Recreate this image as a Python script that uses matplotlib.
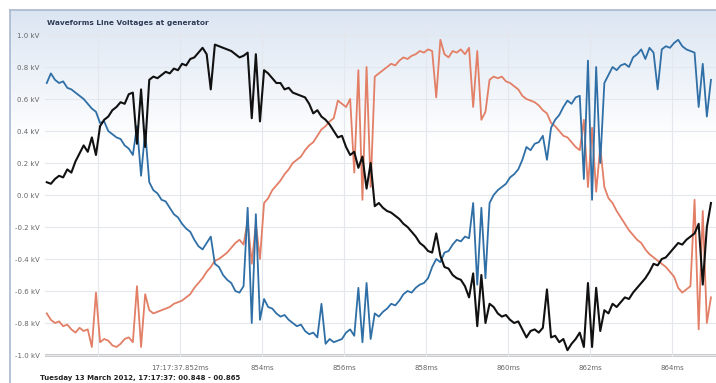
import numpy as np
import matplotlib
matplotlib.use("Agg")
import matplotlib.pyplot as plt

# ---------------- data ----------------
t_start = 848.75   # ms
t_step = 0.1       # ms sampling

black = [0.08, 0.07, 0.10, 0.12, 0.11, 0.16, 0.14, 0.21, 0.26, 0.31,
         0.27, 0.36, 0.25, 0.43, 0.47, 0.49, 0.53, 0.55, 0.58, 0.57,
         0.63, 0.64, 0.32, 0.66, 0.30, 0.72, 0.74, 0.73, 0.75, 0.77,
         0.76, 0.79, 0.78, 0.82, 0.81, 0.85, 0.86, 0.89, 0.92, 0.88,
         0.66, 0.94, 0.93, 0.92, 0.91, 0.90, 0.88, 0.86, 0.87, 0.89,
         0.48, 0.88, 0.46, 0.78, 0.76, 0.73, 0.70, 0.70, 0.66, 0.67,
         0.64, 0.63, 0.62, 0.61, 0.57, 0.51, 0.53, 0.49, 0.47, 0.44,
         0.40, 0.36, 0.37, 0.30, 0.25, 0.27, 0.17, 0.24, 0.04, 0.20,
         -0.07, -0.05, -0.08, -0.10, -0.11, -0.13, -0.15, -0.18, -0.20, -0.23,
         -0.26, -0.30, -0.32, -0.35, -0.36, -0.24, -0.38, -0.45, -0.46, -0.50,
         -0.52, -0.53, -0.57, -0.64, -0.49, -0.82, -0.50, -0.80, -0.68, -0.70,
         -0.74, -0.76, -0.75, -0.78, -0.80, -0.79, -0.84, -0.89, -0.85, -0.84,
         -0.86, -0.83, -0.59, -0.89, -0.88, -0.92, -0.90, -0.97, -0.93, -0.90,
         -0.86, -0.95, -0.55, -0.95, -0.58, -0.85, -0.72, -0.74, -0.68, -0.70,
         -0.67, -0.64, -0.65, -0.61, -0.58, -0.55, -0.52, -0.48, -0.43, -0.44,
         -0.40, -0.39, -0.36, -0.33, -0.30, -0.31, -0.28, -0.26, -0.24, -0.18,
         -0.56, -0.20, -0.05]

blue = [0.70, 0.76, 0.72, 0.70, 0.71, 0.67, 0.66, 0.64, 0.62, 0.60,
        0.57, 0.54, 0.52, 0.45, 0.46, 0.40, 0.38, 0.36, 0.35, 0.31,
        0.29, 0.25, 0.43, 0.12, 0.40, 0.08, 0.03, 0.01, -0.03, -0.04,
        -0.08, -0.12, -0.14, -0.18, -0.21, -0.23, -0.28, -0.32, -0.34, -0.30,
        -0.26, -0.43, -0.45, -0.50, -0.53, -0.55, -0.60, -0.61, -0.57, -0.08,
        -0.80, -0.12, -0.78, -0.65, -0.70, -0.71, -0.74, -0.76, -0.75, -0.78,
        -0.80, -0.82, -0.81, -0.85, -0.87, -0.86, -0.89, -0.68, -0.93, -0.90,
        -0.92, -0.91, -0.90, -0.86, -0.84, -0.88, -0.58, -0.92, -0.55, -0.90,
        -0.74, -0.76, -0.73, -0.71, -0.68, -0.69, -0.66, -0.62, -0.60, -0.61,
        -0.58, -0.56, -0.55, -0.52, -0.45, -0.40, -0.42, -0.36, -0.35, -0.31,
        -0.28, -0.29, -0.26, -0.27, -0.05, -0.56, -0.08, -0.52, -0.05, 0.00,
        0.03, 0.05, 0.07, 0.11, 0.13, 0.16, 0.22, 0.30, 0.28, 0.32,
        0.33, 0.37, 0.22, 0.42, 0.47, 0.50, 0.55, 0.59, 0.57, 0.61,
        0.62, 0.10, 0.84, -0.03, 0.80, 0.20, 0.70, 0.75, 0.80, 0.78,
        0.81, 0.82, 0.80, 0.86, 0.88, 0.91, 0.85, 0.92, 0.89, 0.66,
        0.91, 0.93, 0.92, 0.95, 0.97, 0.93, 0.91, 0.90, 0.89, 0.55,
        0.82, 0.49, 0.72]

orange = [-0.74, -0.78, -0.80, -0.79, -0.82, -0.81, -0.84, -0.86, -0.83, -0.85,
          -0.84, -0.95, -0.61, -0.92, -0.90, -0.91, -0.94, -0.95, -0.93, -0.90,
          -0.89, -0.92, -0.57, -0.95, -0.62, -0.72, -0.74, -0.73, -0.72, -0.71,
          -0.70, -0.68, -0.67, -0.66, -0.64, -0.62, -0.58, -0.55, -0.52, -0.48,
          -0.45, -0.41, -0.40, -0.38, -0.36, -0.33, -0.30, -0.28, -0.31, -0.16,
          -0.43, -0.18, -0.40, -0.05, -0.02, 0.03, 0.06, 0.09, 0.13, 0.16,
          0.20, 0.22, 0.24, 0.28, 0.31, 0.33, 0.37, 0.41, 0.43, 0.46,
          0.48, 0.59, 0.57, 0.55, 0.60, 0.14, 0.78, -0.03, 0.80, 0.05,
          0.74, 0.76, 0.78, 0.80, 0.82, 0.81, 0.84, 0.86, 0.85, 0.87,
          0.88, 0.90, 0.89, 0.91, 0.90, 0.61, 0.97, 0.88, 0.86, 0.90,
          0.89, 0.91, 0.88, 0.92, 0.55, 0.90, 0.47, 0.52, 0.72, 0.74,
          0.73, 0.74, 0.71, 0.70, 0.68, 0.66, 0.62, 0.60, 0.59, 0.58,
          0.56, 0.53, 0.51, 0.45, 0.43, 0.40, 0.37, 0.36, 0.33, 0.30,
          0.28, 0.47, 0.05, 0.42, 0.02, 0.30, 0.05, -0.02, -0.05, -0.10,
          -0.14, -0.18, -0.22, -0.25, -0.28, -0.30, -0.34, -0.37, -0.39, -0.41,
          -0.43, -0.45, -0.48, -0.51, -0.58, -0.61, -0.59, -0.57, -0.03, -0.84,
          -0.10, -0.80, -0.64]

x_ticks = [850, 852, 854, 856, 858, 860, 862, 864]
x_tick_labels = ["", "17:17:37.852ms", "854ms", "856ms", "858ms", "860ms", "862ms", "864ms"]
y_ticks = [-1.0, -0.8, -0.6, -0.4, -0.2, 0.0, 0.2, 0.4, 0.6, 0.8, 1.0]
y_tick_labels = ["-1.0 kV", "-0.8 kV", "-0.6 kV", "-0.4 kV", "-0.2 kV", "0.0 kV",
                 "0.2 kV", "0.4 kV", "0.6 kV", "0.8 kV", "1.0 kV"]
title = "Waveforms Line Voltages at generator"
footer = "Tuesday 13 March 2012, 17:17:37: 00.848 - 00.865"

# ---------------- figure ----------------
W, H = 716, 383
fig = plt.figure(figsize=(W / 100, H / 100), dpi=100)
fig.patch.set_facecolor("white")

def px(x):
    return x / W

def py(y):
    return 1 - y / H

# panel with vertical gradient (light blue at top fading to white)
bg = fig.add_axes([px(10), 0, px(W - 10), py(10)])
g = np.clip(np.linspace(0, 1, 256) / 0.35, 0, 1)
top_c = np.array([0.86, 0.90, 0.95])
bot_c = np.array([1.0, 1.0, 1.0])
img = (top_c[None, :] * (1 - g)[:, None] + bot_c[None, :] * g[:, None]).reshape(256, 1, 3)
bg.imshow(img, aspect="auto", extent=[0, 1, 0, 1], origin="upper")
bg.set_xlim(0, 1)
bg.set_ylim(0, 1)
bg.set_xticks([])
bg.set_yticks([])
for s in ["right", "bottom"]:
    bg.spines[s].set_visible(False)
for s in ["top", "left"]:
    bg.spines[s].set_color("#a9b8cf")
    bg.spines[s].set_linewidth(1.2)

ax_l, ax_r, ax_t, ax_b = 45, 716, 28, 357
ax = fig.add_axes([px(ax_l), py(ax_b), px(ax_r - ax_l), (ax_b - ax_t) / H])
ax.set_facecolor("none")

t = t_start + t_step * np.arange(len(black))
ax.plot(t, orange, color="#e27f66", lw=1.3, zorder=3)
ax.plot(t, blue, color="#2f6fa6", lw=1.3, zorder=4)
ax.plot(t, black, color="#111111", lw=1.5, zorder=5)

ax.set_xlim(848.707, 865.073)
ax.set_ylim(-1.0125, 1.04375)

ax.set_xticks(x_ticks)
ax.set_xticklabels(x_tick_labels, fontsize=5, color="#666666")
ax.set_yticks(y_ticks)
ax.set_yticklabels(y_tick_labels, fontsize=5, color="#666666")
ax.tick_params(length=0, pad=4)
ax.tick_params(axis="x", pad=6)
ax.grid(True, color="#e4e7ec", lw=0.8, zorder=0)
for s in ax.spines.values():
    s.set_visible(False)
ax.axhline(-1.0, color="#c4c4c4", lw=2.0, zorder=1)

fig.text(px(47), py(23), title, fontsize=5.3, fontweight="bold",
         color="#2d3b55", va="center", ha="left")
fig.text(px(40), py(378), footer, fontsize=5, fontweight="bold",
         color="#222222", va="center", ha="left")

fig.savefig("out.png", dpi=100)
